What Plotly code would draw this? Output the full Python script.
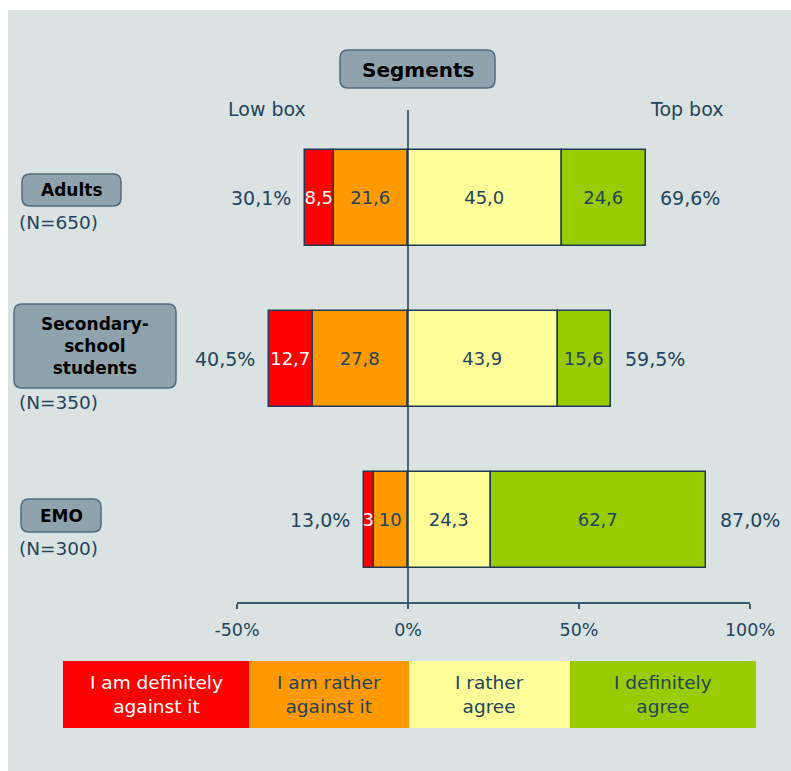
import plotly.graph_objects as go

# ---- data ----
segments = ["Adults", "Secondary-school students", "EMO"]
segment_titles = ["Adults", "Secondary-<br>school<br>students", "EMO"]
sample_sizes = [650, 350, 300]

definitely_against = [8.5, 12.7, 3]
rather_against = [21.6, 27.8, 10]
rather_agree = [45.0, 43.9, 24.3]
definitely_agree = [24.6, 15.6, 62.7]

answer_labels = ["I am definitely<br>against it", "I am rather<br>against it",
                 "I rather<br>agree", "I definitely<br>agree"]
tick_values = [-50, 0, 50, 100]
tick_labels = ["-50%", "0%", "50%", "100%"]

# ---- styling ----
RED, ORANGE, YELLOW, GREEN = "#ff0000", "#ff9900", "#ffff99", "#99cc00"
TEXT = "#23445e"
EDGE = "#1f3a55"
BG = "#dae2e2"
BOX_FILL = "#8fa3ad"
BOX_EDGE = "#4f6d80"
FONT = "DejaVu Sans"

W, H = 791, 771
L, R, T, B = 237, 750, 110, 602   # plot area in pixels


def px(x):
    return (x - L) / (R - L)


def py(y):
    return (B - y) / (B - T)


def fmt(v):
    if isinstance(v, int):
        return str(v)
    return f"{v:.1f}".replace(".", ",")


def rounded_box(x0, y0, x1, y1, r=8):
    rx, ry = r / (R - L), r / (B - T)
    a0, a1 = px(x0), px(x1)
    b0, b1 = py(y1), py(y0)
    path = (f"M {a0 + rx},{b0} L {a1 - rx},{b0} Q {a1},{b0} {a1},{b0 + ry} "
            f"L {a1},{b1 - ry} Q {a1},{b1} {a1 - rx},{b1} "
            f"L {a0 + rx},{b1} Q {a0},{b1} {a0},{b1 - ry} "
            f"L {a0},{b0 + ry} Q {a0},{b0} {a0 + rx},{b0} Z")
    return dict(type="path", xref="paper", yref="paper", path=path,
                fillcolor=BOX_FILL, line=dict(color=BOX_EDGE, width=1.5),
                layer="above")


def paper_text(x, y, text, size, color=TEXT, anchor="center"):
    return dict(x=px(x), y=py(y), xref="paper", yref="paper", text=text,
                xanchor=anchor, yanchor="middle", showarrow=False,
                font=dict(family=FONT, size=size, color=color))


fig = go.Figure()

# stacked bars: disagreement to the left of zero, agreement to the right
series = [
    (rather_against, ORANGE, TEXT, -1),
    (definitely_against, RED, "white", -1),
    (rather_agree, YELLOW, TEXT, 1),
    (definitely_agree, GREEN, TEXT, 1),
]
for vals, color, tcolor, sign in series:
    fig.add_trace(go.Bar(
        y=segments, x=[sign * v for v in vals], orientation="h",
        marker=dict(color=color, line=dict(color=EDGE, width=1.5)),
        width=0.596,
        text=[fmt(v) for v in vals], textposition="inside",
        insidetextanchor="middle", textangle=0, constraintext="none",
        textfont=dict(family=FONT, size=18, color=tcolor),
        showlegend=False, hoverinfo="skip",
    ))

annotations = []
# low-box / top-box totals beside each bar
for seg, da, ra, ag, dg in zip(segments, definitely_against, rather_against,
                               rather_agree, definitely_agree):
    low = da + ra
    top = ag + dg
    annotations.append(dict(x=-low, y=seg, xref="x", yref="y", text=fmt(float(low)) + "%",
                            xanchor="right", yanchor="middle", xshift=-12, showarrow=False,
                            font=dict(family=FONT, size=19, color=TEXT)))
    annotations.append(dict(x=top, y=seg, xref="x", yref="y", text=fmt(float(top)) + "%",
                            xanchor="left", yanchor="middle", xshift=12, showarrow=False,
                            font=dict(family=FONT, size=19, color=TEXT)))

shapes = []
# panel background
shapes.append(dict(type="rect", xref="paper", yref="paper", layer="below",
                   x0=px(8), x1=px(W), y0=py(10), y1=py(H),
                   fillcolor=BG, line=dict(width=0)))
# zero line
shapes.append(dict(type="line", xref="x", yref="paper", x0=0, x1=0, y0=0, y1=1,
                   line=dict(color=EDGE, width=1.5), layer="above"))

# title box
shapes.append(rounded_box(340, 50, 495, 88))
annotations.append(paper_text(417.5, 69.5, "<b>Segments</b>", 20, "black"))

annotations.append(paper_text(267, 109, "Low box", 19))
annotations.append(paper_text(686, 109, "Top box", 19))

# segment name boxes with sample sizes
boxes = [(22, 174, 121, 206), (14, 304, 176, 388), (21, 499, 101, 532)]
n_y = [222, 402, 548]
for title, n, (x0, y0, x1, y1), ny in zip(segment_titles, sample_sizes, boxes, n_y):
    shapes.append(rounded_box(x0, y0, x1, y1))
    annotations.append(paper_text((x0 + x1) / 2, (y0 + y1) / 2, f"<b>{title}</b>", 17, "black"))
    annotations.append(paper_text(17, ny, f"(N={n})", 18.5, anchor="left"))

# answer key at the bottom
key_edges = [63, 249, 409, 570, 756]
key_colors = [RED, ORANGE, YELLOW, GREEN]
key_text_colors = ["white", TEXT, TEXT, TEXT]
for i, (lab, col, tcol) in enumerate(zip(answer_labels, key_colors, key_text_colors)):
    x0, x1 = key_edges[i], key_edges[i + 1]
    shapes.append(dict(type="rect", xref="paper", yref="paper", layer="above",
                       x0=px(x0), x1=px(x1), y0=py(728), y1=py(661),
                       fillcolor=col, line=dict(width=0)))
    annotations.append(paper_text((x0 + x1) / 2, 694.5, lab, 18.5, tcol))

fig.update_layout(
    width=W, height=H,
    margin=dict(l=L, r=W - R, t=T, b=H - B, pad=0),
    paper_bgcolor="white", plot_bgcolor="rgba(0,0,0,0)",
    barmode="relative", bargap=0,
    shapes=shapes, annotations=annotations,
    xaxis=dict(range=[-50, 100], tickvals=tick_values, ticktext=tick_labels,
               showgrid=False, zeroline=False, showline=True,
               linecolor="#3a5a70", linewidth=2, ticks="outside", ticklen=5,
               tickwidth=1.5, tickcolor="#3a5a70", ticklabelstandoff=6,
               tickfont=dict(family=FONT, size=17.5, color=TEXT), fixedrange=True),
    yaxis=dict(type="category", categoryorder="array", categoryarray=segments,
               range=[2.509, -0.547], showticklabels=False, showgrid=False,
               zeroline=False, showline=False, ticks="", fixedrange=True),
    font=dict(family=FONT, color=TEXT),
)

fig.write_html("out.html")
